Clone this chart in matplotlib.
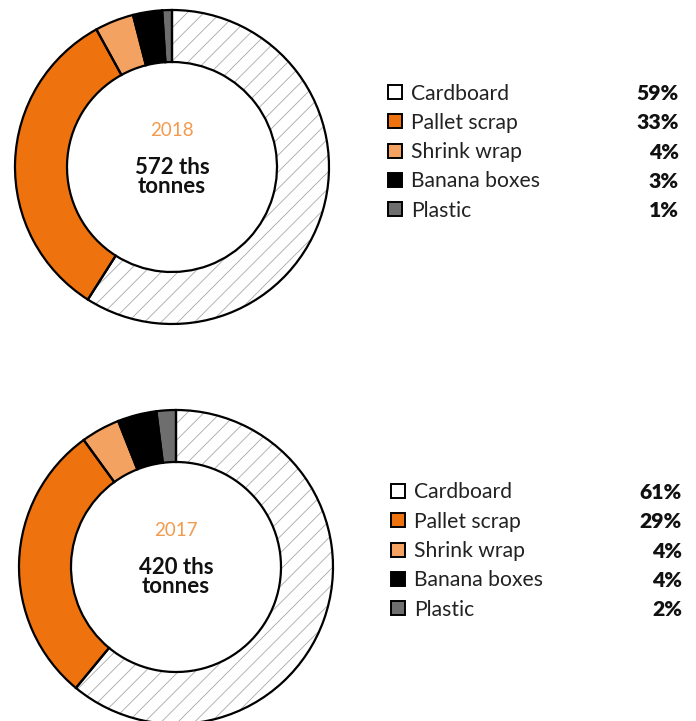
import matplotlib.pyplot as plt
from matplotlib.patches import Rectangle

plt.rcParams['font.family'] = ['Lato', 'DejaVu Sans']
plt.rcParams['hatch.linewidth'] = 0.6

categories = ['Cardboard', 'Pallet scrap', 'Shrink wrap', 'Banana boxes', 'Plastic']
colors = ['white', '#EE730F', '#F4A262', '#000000', '#6E6E6E']
years = ['2018', '2017']
totals = ['572 ths\ntonnes', '420 ths\ntonnes']
shares_2018 = [59, 33, 4, 3, 1]
shares_2017 = [61, 29, 4, 4, 2]
shares = [shares_2018, shares_2017]

W, H = 696, 721
fig = plt.figure(figsize=(W / 100, H / 100), dpi=100)
ax = fig.add_axes([0, 0, 1, 1])
ax.set_xlim(0, W)
ax.set_ylim(0, H)
ax.set_aspect('equal')
ax.axis('off')

R = 157
ring = 52
# (center x, center y from top, legend x of square, legend first row y from top)
layout = [(172, 167, 388, 92), (176, 567, 391, 491)]

for i, (cx, cy, lx, ly) in enumerate(layout):
    yc = H - cy
    # filled wedges, cardboard hatched in grey
    ax.pie(shares[i], colors=colors, startangle=90, counterclock=False,
           radius=R, center=(cx, yc),
           hatch=['//', '', '', '', ''],
           wedgeprops=dict(width=ring, edgecolor='#a8a8a8', linewidth=0))
    # black outlines
    ax.pie(shares[i], colors=['none'] * 5, startangle=90, counterclock=False,
           radius=R, center=(cx, yc),
           wedgeprops=dict(width=ring, edgecolor='black', linewidth=1.6, fill=False))

    ax.text(cx, H - (cy - 36), years[i], ha='center', va='center',
            fontsize=13.5, color='#F39A4D', fontweight='normal')
    ax.text(cx, H - (cy + 10), totals[i], ha='center', va='center',
            fontsize=16, fontweight='bold', color='#111111', linespacing=0.85)

    # legend
    for j, cat in enumerate(categories):
        ry = H - (ly + j * 29.3)
        ax.add_patch(Rectangle((lx, ry - 7), 14, 14, facecolor=colors[j],
                               edgecolor='black', linewidth=1.4))
        ax.text(lx + 23, ry - 1.5, cat, ha='left', va='center', fontsize=15.2, color='#222222')
        ax.text(lx + 291, ry - 1.5, f'{shares[i][j]}%', ha='right', va='center',
                fontsize=15.2, fontweight='heavy', color='#111111')

ax.set_xlim(0, W)
ax.set_ylim(0, H)
fig.savefig('out.png', dpi=100)
